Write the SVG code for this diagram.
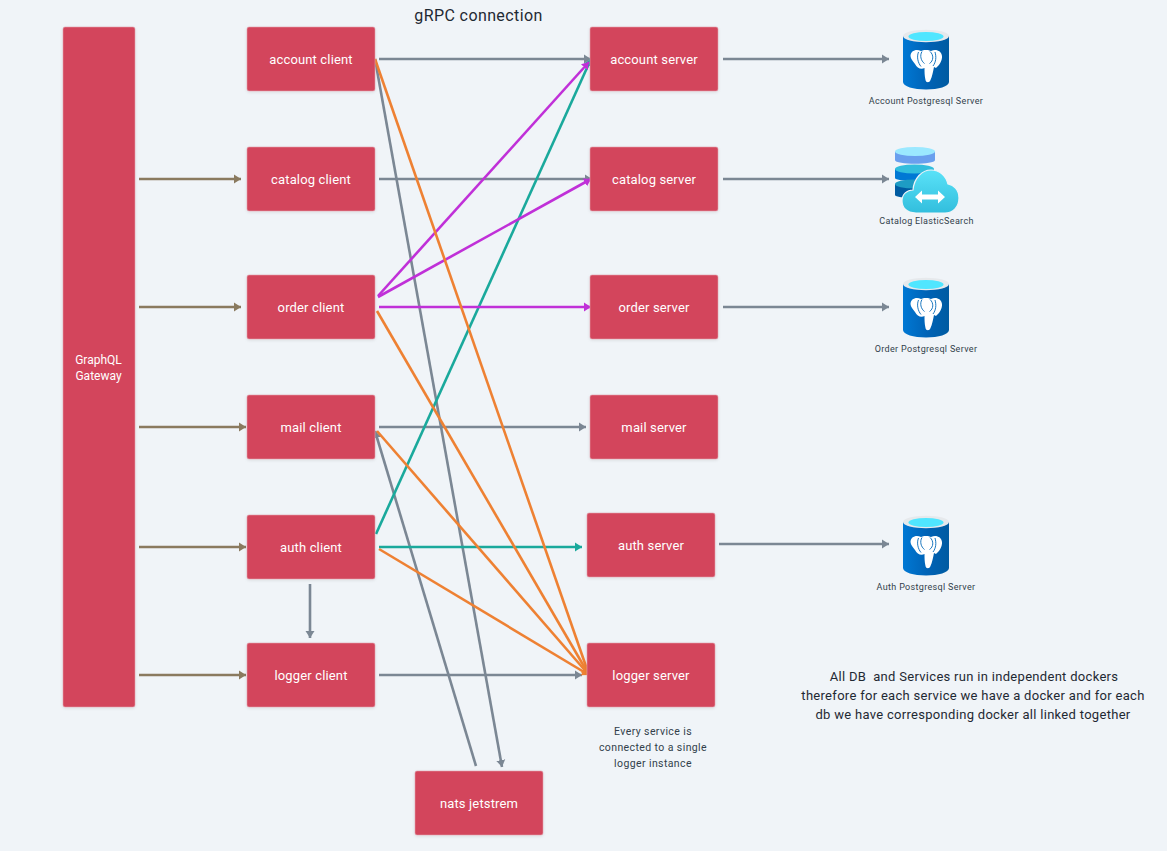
<svg xmlns="http://www.w3.org/2000/svg" width="1167" height="851" viewBox="0 0 1167 851">
<style>
text{font-family:"Roboto","Liberation Sans",sans-serif;text-anchor:middle;white-space:pre}
.box{fill:#D3455B;stroke:#e3a0ab;stroke-width:.6;filter:url(#sh)}
.lbl{fill:#fff;font-size:13px;letter-spacing:.15px}
.gw{font-size:12px;letter-spacing:0}
.sm{fill:#323f4b;font-size:9px;letter-spacing:.33px}
.mid{font-size:10.500px;letter-spacing:.4px}
.note{fill:#1f2933;font-size:13px;letter-spacing:.3px}
.title{font-size:16px;letter-spacing:.4px;fill:#1f2933}
.c{fill:none;stroke-width:2.600;stroke-linecap:butt}
.g{stroke:#7B8794}.b{stroke:#8A7A5F}.p{stroke:#C030D8}.t{stroke:#1AA99C}.o{stroke:#EE8133}
</style>
<defs>
<filter id="sh" x="-10%" y="-10%" width="120%" height="125%"><feDropShadow dx="0" dy="1" stdDeviation="1.500" flood-color="#000" flood-opacity=".1"/></filter>
<marker id="mg" markerUnits="userSpaceOnUse" markerWidth="8" markerHeight="10" refX="7" refY="5" orient="auto"><path d="M0 .5L7 5L0 9.500Z" fill="#7B8794"/></marker>
<marker id="mb" markerUnits="userSpaceOnUse" markerWidth="8" markerHeight="10" refX="7" refY="5" orient="auto"><path d="M0 .5L7 5L0 9.500Z" fill="#8A7A5F"/></marker>
<marker id="mp" markerUnits="userSpaceOnUse" markerWidth="8" markerHeight="10" refX="7" refY="5" orient="auto"><path d="M0 .5L7 5L0 9.500Z" fill="#C030D8"/></marker>
<marker id="mt" markerUnits="userSpaceOnUse" markerWidth="8" markerHeight="10" refX="7" refY="5" orient="auto"><path d="M0 .5L7 5L0 9.500Z" fill="#1AA99C"/></marker>
<marker id="mo" markerUnits="userSpaceOnUse" markerWidth="8" markerHeight="10" refX="7" refY="5" orient="auto"><path d="M0 .5L7 5L0 9.500Z" fill="#EE8133"/></marker>
<linearGradient id="cyl" x1="0" y1="0" x2="1" y2="0"><stop offset="0" stop-color="#0078D4"/><stop offset=".55" stop-color="#0062B5"/><stop offset="1" stop-color="#005BA1"/></linearGradient>
<linearGradient id="cld" x1="0" y1="0" x2="0" y2="1"><stop offset="0" stop-color="#5AE2F8"/><stop offset="1" stop-color="#32BEDD"/></linearGradient>
<symbol id="pg" viewBox="0 0 46 60" width="46" height="60" overflow="visible">
<path d="M0 6V52C0 56.500 10.500 59.500 23 59.500S46 56.500 46 52V6Z" fill="url(#cyl)"/>
<ellipse cx="23" cy="6" rx="23" ry="6.300" fill="#E6E9EC"/>
<ellipse cx="23" cy="6.500" rx="17.500" ry="4.600" fill="#50E6FF"/>
<path d="M7.500 26C7.500 21 13 18.500 18 21C20 19.500 26 19.500 28 21C33 18.500 38.500 21 39 26C39.500 31 35.500 36 33 38L31 37C30 42 29 47 27.500 50C26.500 53 23 53 22.500 50C21.500 46 21.500 42 21.500 38C18 40 14 38 12 34C10 31 7.500 29 7.500 26Z" fill="#fff"/>
<path d="M15.500 22C13.500 27 15 33 18 36.500M19 21.500C16.500 25.500 18 31 21.500 33.500M27 21.500C31 25 30.500 31 26.500 33.500M32 22C33.500 27 33 32 30 36" fill="none" stroke="#0068B8" stroke-width=".9"/>
</symbol>
</defs>
<rect width="1167" height="851" fill="#F0F4F8"/>

<g id="connectors">
<path class="c g" marker-end="url(#mg)" d="M379 59H591"/>
<path class="c g" marker-end="url(#mg)" d="M379 179H592"/>
<path class="c g" marker-end="url(#mg)" d="M379 427H586"/>
<path class="c g" marker-end="url(#mg)" d="M379 675H582"/>
<path class="c g" marker-end="url(#mg)" d="M723 59H889"/>
<path class="c g" marker-end="url(#mg)" d="M723 179H889"/>
<path class="c g" marker-end="url(#mg)" d="M723 307H889"/>
<path class="c g" marker-end="url(#mg)" d="M719 544H889"/>
<path class="c g" marker-end="url(#mg)" d="M310 584V638"/>
<path class="c g" marker-end="url(#mg)" d="M375 59L502 767"/>
<path class="c g" marker-end="url(#mg)" d="M476 766L375 431"/>
<path class="c b" marker-end="url(#mb)" d="M139 179H241"/>
<path class="c b" marker-end="url(#mb)" d="M139 307H241"/>
<path class="c b" marker-end="url(#mb)" d="M139 427H246"/>
<path class="c b" marker-end="url(#mb)" d="M139 547H246"/>
<path class="c b" marker-end="url(#mb)" d="M139 675H246"/>
<path class="c t" marker-end="url(#mt)" d="M376 534L591 59"/>
<path class="c t" marker-end="url(#mt)" d="M379 547H582"/>
<path class="c p" marker-end="url(#mp)" d="M378 296L589 62"/>
<path class="c p" marker-end="url(#mp)" d="M378 297L591 179"/>
<path class="c p" marker-end="url(#mp)" d="M379 307H591"/>
<path class="c o" marker-end="url(#mo)" d="M375 59L589 675"/>
<path class="c o" marker-end="url(#mo)" d="M377 311L589 675"/>
<path class="c o" marker-end="url(#mo)" d="M377 431L589 675"/>
<path class="c o" marker-end="url(#mo)" d="M379 549L589 675"/>
</g>

<g id="gateway"><rect class="box" x="63" y="27" width="72" height="680" rx="2"/><text class="lbl gw" x="98.500" y="364">GraphQL</text><text class="lbl gw" x="98.500" y="380">Gateway</text></g>
<g id="account-client"><rect class="box" x="247" y="27" width="128" height="64" rx="2"/><text class="lbl" x="311" y="64">account client</text></g>
<g id="catalog-client"><rect class="box" x="247" y="147" width="128" height="64" rx="2"/><text class="lbl" x="311" y="184">catalog client</text></g>
<g id="order-client"><rect class="box" x="247" y="275" width="128" height="64" rx="2"/><text class="lbl" x="311" y="312">order client</text></g>
<g id="mail-client"><rect class="box" x="247" y="395" width="128" height="64" rx="2"/><text class="lbl" x="311" y="432">mail client</text></g>
<g id="auth-client"><rect class="box" x="247" y="515" width="128" height="64" rx="2"/><text class="lbl" x="311" y="552">auth client</text></g>
<g id="logger-client"><rect class="box" x="247" y="643" width="128" height="64" rx="2"/><text class="lbl" x="311" y="680">logger client</text></g>
<g id="account-server"><rect class="box" x="590" y="27" width="128" height="64" rx="2"/><text class="lbl" x="654" y="64">account server</text></g>
<g id="catalog-server"><rect class="box" x="590" y="147" width="128" height="64" rx="2"/><text class="lbl" x="654" y="184">catalog server</text></g>
<g id="order-server"><rect class="box" x="590" y="275" width="128" height="64" rx="2"/><text class="lbl" x="654" y="312">order server</text></g>
<g id="mail-server"><rect class="box" x="590" y="395" width="128" height="64" rx="2"/><text class="lbl" x="654" y="432">mail server</text></g>
<g id="auth-server"><rect class="box" x="587" y="513" width="128" height="64" rx="2"/><text class="lbl" x="651" y="550">auth server</text></g>
<g id="logger-server"><rect class="box" x="587" y="643" width="128" height="64" rx="2"/><text class="lbl" x="651" y="680">logger server</text></g>
<g id="nats"><rect class="box" x="415" y="771" width="128" height="64" rx="2"/><text class="lbl" x="479" y="808">nats jetstrem</text></g>

<g id="account-db"><use href="#pg" x="903" y="30"/><text class="sm" x="926" y="104">Account Postgresql Server</text></g>
<g id="catalog-db">
<path d="M895 152V160C895 165 935 165 935 160V152Z" fill="#6A9FEE"/><ellipse cx="915" cy="151.500" rx="20" ry="4.500" fill="#9BE8FF"/>
<path d="M895 169V178C895 182 934 182 934 178V169Z" fill="#0078D4"/><ellipse cx="914.500" cy="169" rx="19.500" ry="4.500" fill="#32BEDD"/>
<path d="M895 184V195C895 199 934 199 934 195V184Z" fill="#005BA1"/><ellipse cx="914.500" cy="184" rx="19.500" ry="4.500" fill="#1E9CC4"/>
<path d="M916 213C906 213 902 207 902 201C902 194 907 190 913 190C914 178 922 170 931 170C940 170 946 176 948 184C954 185 959 190 959 198C959 207 953 213 945 213Z" fill="url(#cld)" stroke="#F0F4F8" stroke-width="1.200"/>
<path d="M915 197L922 190.500V194.500H938V190.500L945 197L938 203.500V199.500H922V203.500Z" fill="#fff"/>
<text class="sm" x="926.500" y="224">Catalog ElasticSearch</text></g>
<g id="order-db"><use href="#pg" x="903" y="278"/><text class="sm" x="926" y="352">Order Postgresql Server</text></g>
<g id="auth-db"><use href="#pg" x="903" y="516"/><text class="sm" x="926" y="590">Auth Postgresql Server</text></g>

<g id="notes">
<text class="title" x="478.500" y="21">gRPC connection</text>
<text class="sm mid" x="653" y="735">Every service is</text>
<text class="sm mid" x="653" y="751">connected to a single</text>
<text class="sm mid" x="653" y="767">logger instance</text>
<text class="note" x="974" y="681">All DB  and Services run in independent dockers</text>
<text class="note" x="973" y="700">therefore for each service we have a docker and for each</text>
<text class="note" x="973" y="719">db we have corresponding docker all linked together</text>
</g>
</svg>
